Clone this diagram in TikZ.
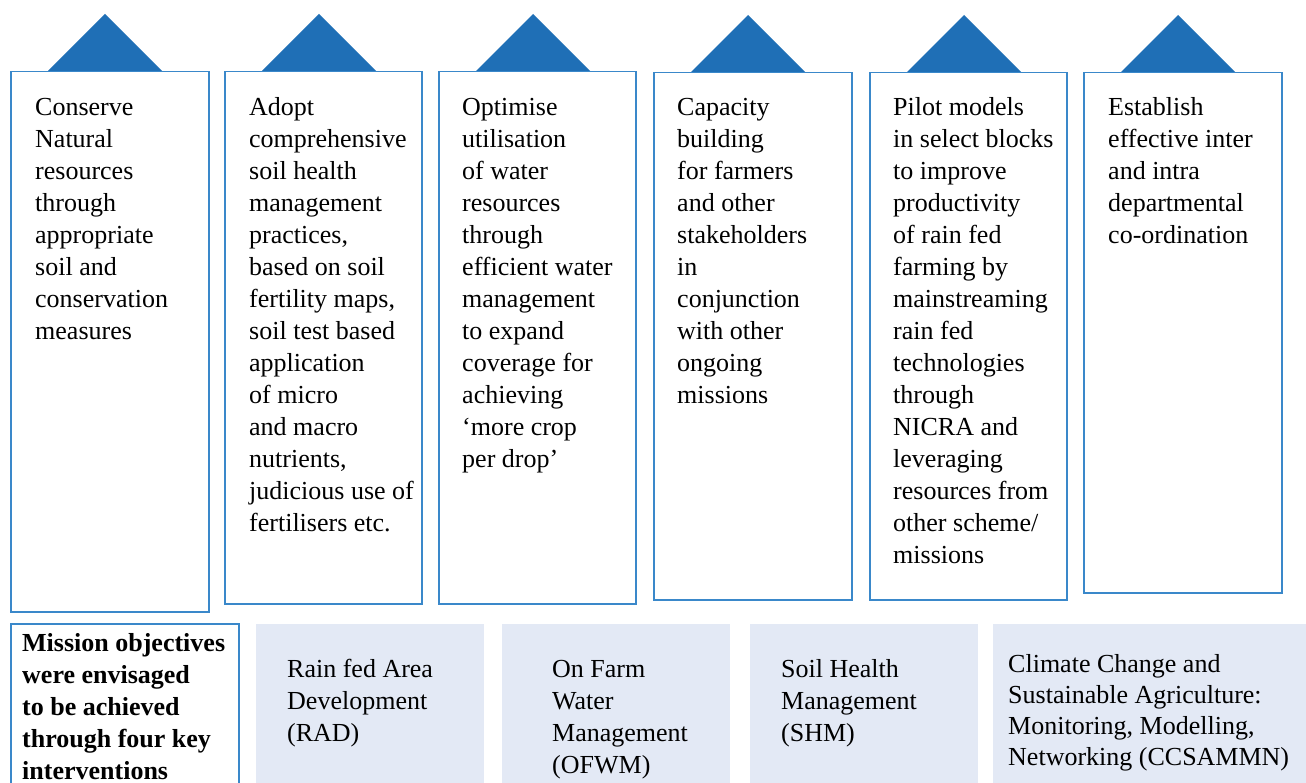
\documentclass[tikz,border=0pt]{standalone}
\usepackage{fontspec}
\setmainfont{Liberation Serif}
\definecolor{tricol}{HTML}{1F6FB6}
\definecolor{bordcol}{HTML}{3A88CA}
\definecolor{palecol}{HTML}{E3E9F5}
\newcommand\stk[2][32pt]{\vtop{\baselineskip=#1\lineskiplimit=-30pt\lineskip=0pt\halign{##\hfil\cr#2\crcr}}}
\begin{document}
\begin{tikzpicture}[x=1pt,y=-1pt,
  objbox/.style={draw=bordcol, line width=1.5pt, fill=white, anchor=north west, inner sep=0pt},
  palebox/.style={fill=palecol, anchor=north west, inner sep=0pt},
  txt/.style={anchor=base west, inner sep=0pt, font=\fontsize{26}{32}\selectfont},
  bold/.style={txt, font=\fontsize{26}{32}\selectfont\bfseries}]
\fill[white] (0,0) rectangle (1306,783);
\useasboundingbox (0,0) rectangle (1306,783);
% triangles
\foreach \xx/\yy in {10/71,224/71,438/71,653/72,869/72,1083/72}
  \fill[tricol] (\xx+38,\yy) -- ++(57,-57) -- ++(57,57) -- cycle;
% top boxes
\node[objbox, minimum width=198pt, minimum height=540pt] (b1) at (10,71) {};
\node[objbox, minimum width=197pt, minimum height=532pt] (b2) at (224,71) {};
\node[objbox, minimum width=197pt, minimum height=532pt] (b3) at (438,71) {};
\node[objbox, minimum width=198pt, minimum height=527pt] (b4) at (653,72) {};
\node[objbox, minimum width=197pt, minimum height=527pt] (b5) at (869,72) {};
\node[objbox, minimum width=198pt, minimum height=520pt] (b6) at (1083,72) {};
% bottom boxes
\node[objbox, minimum width=228pt, minimum height=180pt] (m) at (10,623) {};
\node[palebox, minimum width=228pt, minimum height=170pt] (rad) at (256,624) {};
\node[palebox, minimum width=228pt, minimum height=170pt] (ofwm) at (502,624) {};
\node[palebox, minimum width=228pt, minimum height=170pt] (shm) at (750,624) {};
\node[palebox, minimum width=320pt, minimum height=170pt] (cc) at (993,624) {};
% texts
\node[txt] (t1) at (35,116) {\stk{Conserve\cr Natural\cr resources\cr through\cr appropriate\cr soil and\cr conservation\cr measures}};
\node[txt] (t2) at (249,116) {\stk{Adopt\cr comprehensive\cr soil health\cr management\cr practices,\cr based on soil\cr fertility maps,\cr soil test based\cr application\cr of micro\cr and macro\cr nutrients,\cr judicious use of\cr fertilisers etc.}};
\node[txt] (t3) at (462,116) {\stk{Optimise\cr utilisation\cr of water\cr resources\cr through\cr efficient water\cr management\cr to expand\cr coverage for\cr achieving\cr ‘more crop\cr per drop’}};
\node[txt] (t4) at (677,116) {\stk{Capacity\cr building\cr for farmers\cr and other\cr stakeholders\cr in\cr conjunction\cr with other\cr ongoing\cr missions}};
\node[txt] (t5) at (893,116) {\stk{Pilot models\cr in select blocks\cr to improve\cr productivity\cr of rain fed\cr farming by\cr mainstreaming\cr rain fed\cr technologies\cr through\cr NICRA and\cr leveraging\cr resources from\cr other scheme/\cr missions}};
\node[txt] (t6) at (1108,116) {\stk{Establish\cr effective inter\cr and intra\cr departmental\cr co-ordination}};
\node[bold] (tm) at (22,651) {\stk{Mission objectives\cr were envisaged\cr to be achieved\cr through four key\cr interventions}};
\node[txt] (trad) at (287,677) {\stk{Rain fed Area\cr Development\cr (RAD)}};
\node[txt] (tofwm) at (552,677) {\stk{On Farm\cr Water\cr Management\cr (OFWM)}};
\node[txt] (tshm) at (781,677) {\stk{Soil Health\cr Management\cr (SHM)}};
\node[txt] (tcc) at (1008,672) {\stk[31pt]{Climate Change and\cr Sustainable Agriculture:\cr Monitoring, Modelling,\cr Networking (CCSAMMN)}};
\end{tikzpicture}
\end{document}
